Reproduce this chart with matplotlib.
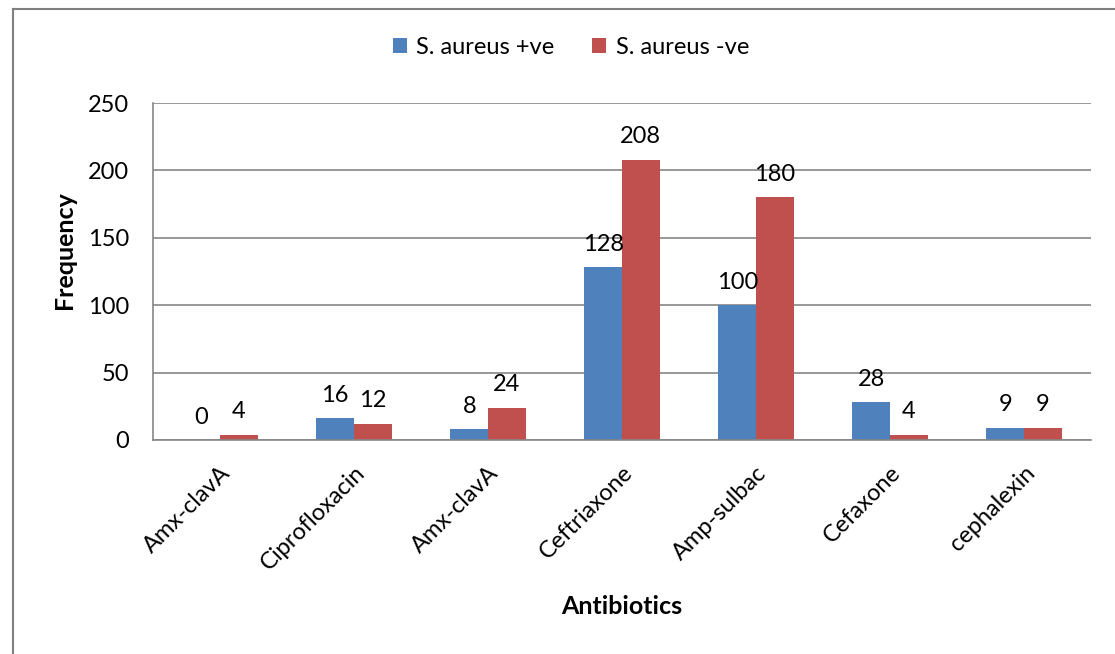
import matplotlib
matplotlib.use("Agg")
import matplotlib.pyplot as plt
import numpy as np
from matplotlib.lines import Line2D

categories = ["Amx-clavA", "Ciprofloxacin", "Amx-clavA", "Ceftriaxone", "Amp-sulbac", "Cefaxone", "cephalexin"]
pos_vals = [0, 16, 8, 128, 100, 28, 9]
neg_vals = [4, 12, 24, 208, 180, 4, 9]
series_names = ["S. aureus +ve", "S. aureus -ve"]
yticks = [0, 50, 100, 150, 200, 250]

plt.rcParams['font.family'] = ['Lato', 'DejaVu Sans']

fig = plt.figure(figsize=(11.15, 6.54), dpi=100)
W, H = 1115, 654
ax = fig.add_axes([153 / W, 1 - 440 / H, (1091 - 153) / W, (440 - 103) / H])

x = np.arange(len(categories))
bw = 0.28
blue = "#4F81BD"
red = "#C0504D"
grid = "#868686"
fs = 17

b1 = ax.bar(x - bw / 2, pos_vals, bw, color=blue, label=series_names[0], zorder=3)
b2 = ax.bar(x + bw / 2, neg_vals, bw, color=red, label=series_names[1], zorder=3)

for bars, vals in ((b1, pos_vals), (b2, neg_vals)):
    for rect, v in zip(bars, vals):
        ax.annotate(str(v), (rect.get_x() + rect.get_width() / 2, v),
                    xytext=(0, 9), textcoords="offset points", ha="center", va="bottom",
                    fontsize=fs, color="black")

ax.set_xlim(-0.5, len(categories) - 0.5)
ax.set_ylim(0, 250)
ax.set_yticks(yticks)
ax.set_yticklabels([str(t) for t in yticks], fontsize=fs)
ax.set_xticks(x)
ax.set_xticklabels(categories, rotation=45, ha="right", rotation_mode="anchor", fontsize=fs)
ax.tick_params(axis="y", length=0, pad=17)
ax.tick_params(axis="x", length=0, pad=16)

ax.yaxis.grid(True, color=grid, linewidth=1.2, zorder=0)
ax.set_axisbelow(True)
for s in ["top", "right"]:
    ax.spines[s].set_visible(False)
for s in ["left", "bottom"]:
    ax.spines[s].set_color(grid)
    ax.spines[s].set_linewidth(1.2)
    ax.spines[s].set_zorder(4)

fig.text(65 / W, 1 - 250 / H, "Frequency", ha="center", va="center", rotation=90,
         fontsize=18, fontweight="bold")
fig.text(622 / W, 1 - 606 / H, "Antibiotics", ha="center", va="center", fontsize=18, fontweight="bold")

fig.legend(handles=[b1, b2], labels=series_names, loc="center", bbox_to_anchor=(571 / W, 1 - 47 / H),
           ncol=2, frameon=False, fontsize=fs, handlelength=0.6, handleheight=0.6,
           handletextpad=0.4, columnspacing=1.6)

# outer frame lines (left and top)
fig.add_artist(Line2D([13 / W, 13 / W], [0, 1 - 9 / H], transform=fig.transFigure, color="#808080", linewidth=1.5))
fig.add_artist(Line2D([13 / W, 1], [1 - 9 / H, 1 - 9 / H], transform=fig.transFigure, color="#808080", linewidth=1.5))

fig.savefig("out.png", dpi=100)
